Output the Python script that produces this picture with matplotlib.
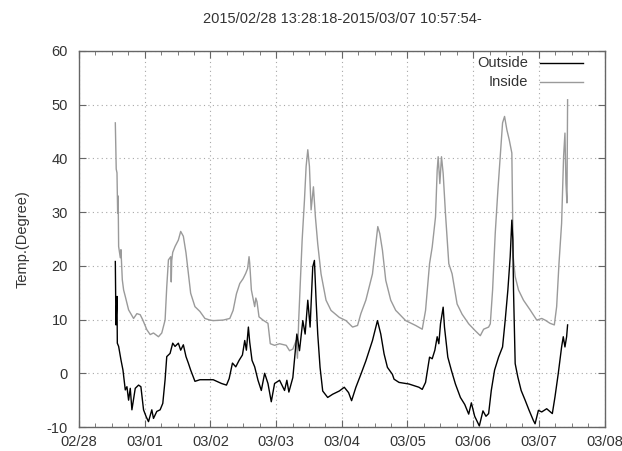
import datetime as dt
import numpy as np
import matplotlib
matplotlib.use("Agg")
import matplotlib.pyplot as plt
import matplotlib.dates as mdates

# hours after 2015/02/28 00:00, temperature in degrees
in_hours = [13.27, 13.6, 13.88, 14.12, 14.3, 14.48, 15.09, 15.33, 15.82, 16.3, 16.91, 18.12,
            19.94, 21.15, 22.36, 23.33, 24.79, 26.0, 27.21, 29.03, 30.24, 31.45, 32.06, 32.67,
            33.52, 33.7, 33.88, 34.24, 35.09, 36.3, 37.15, 38.12, 39.09, 39.94, 40.79, 42.36,
            44.18, 46.0, 47.82, 49.03, 52.67, 55.09, 56.3, 57.52, 58.73, 59.94, 60.91, 61.6,
            62.12, 62.36, 62.97, 64.18, 64.6, 65.03, 65.76, 67.21, 69.03, 69.88, 71.45, 73.27,
            75.7, 76.91, 78.12, 79.33, 79.8, 80.3, 81.52, 82.36, 82.97, 83.58, 84.18, 84.79,
            85.64, 86.36, 87.21, 88.42, 90.24, 92.06, 95.09, 97.52, 99.94, 101.76, 102.97,
            104.79, 107.21, 108.18, 109.15, 109.88, 110.85, 112.06, 113.88, 115.7, 116.3,
            119.33, 122.97, 125.39, 126.6, 128.06, 129.03, 130.24, 130.85, 131.21, 131.82,
            132.42, 133.03, 133.88, 135.09, 136.3, 138.12, 139.94, 142.36, 144.79, 146.6,
            147.82, 149.64, 150.25, 151.09, 152.06, 153.03, 153.88, 154.73, 155.46, 156.31,
            157.15, 158.12, 158.61, 159.34, 160.55, 162.37, 164.79, 167.22, 169.03, 170.25,
            172.06, 173.64, 174.49, 175.34, 176.3, 177.03, 177.52, 177.88, 178.25, 178.49]
in_temp = [46.6, 38.0, 37.3, 29.8, 33.0, 23.6, 21.5, 23.0, 17.4, 15.5, 14.3, 11.8,
           10.2, 11.1, 10.9, 9.9, 8.1, 7.2, 7.5, 6.8, 7.5, 9.9, 16.1, 21.1,
           21.7, 17.0, 21.0, 22.5, 23.6, 24.8, 26.4, 25.5, 22.4, 18.6, 14.9, 12.4,
           11.5, 10.2, 9.9, 9.8, 9.9, 10.2, 11.7, 14.8, 16.7, 17.6, 18.6, 19.5,
           21.7, 20.5, 15.5, 12.4, 14.0, 13.3, 10.5, 9.9, 9.3, 5.5, 5.2, 5.5,
           5.2, 4.2, 4.5, 6.1, 2.8, 10.4, 24.8, 32.2, 38.5, 41.6, 38.5, 30.4,
           34.7, 29.1, 24.1, 18.5, 13.6, 11.7, 10.4, 9.8, 8.6, 8.9, 11.1,
           13.6, 18.5, 22.9, 27.3, 26.0, 22.9, 17.3, 13.6, 11.7, 11.4,
           9.8, 8.9, 8.2, 11.7, 20.4, 23.5, 29.1, 37.8, 40.3, 35.3,
           40.3, 37.2, 29.7, 20.4, 18.5, 12.9, 11.0, 9.2, 7.9, 7.0,
           8.2, 8.6, 9.2, 15.5, 26.1, 34.1, 40.4, 46.6, 47.8, 45.3,
           43.5, 41.0, 21.7, 18.0, 15.5, 13.6, 11.8, 9.9, 10.2, 9.9,
           9.3, 9.0, 12.4, 20.4, 27.9, 40.4, 44.7, 35.4, 31.7, 50.9]

out_hours = [13.27, 13.5, 13.88, 14.0, 14.48, 15.33, 16.06, 16.91, 17.51, 18.12, 18.73, 19.33,
             20.55, 21.76, 22.61, 23.58, 24.55, 25.39, 26.6, 27.21, 28.42, 29.64, 30.61, 31.45,
             32.06, 33.27, 34.24, 35.09, 36.3, 37.15, 38.12, 39.09, 39.94, 40.79, 42.36, 44.18,
             49.03, 52.06, 53.88, 54.85, 56.06, 57.27, 58.48, 59.7, 60.55, 61.15, 61.88, 62.36,
             63.21, 64.18, 65.39, 66.6, 67.82, 69.03, 70.24, 71.45, 73.27, 75.09, 75.94, 76.67,
             78.12, 79.58, 80.55, 81.76, 82.61, 83.58, 84.42, 85.39, 86.0, 86.61, 87.21, 88.06,
             89.03, 90.85, 92.67, 95.09, 96.91, 98.48, 99.58, 101.15, 102.97, 104.79, 107.21,
             109.03, 110.24, 111.45, 112.67, 114.49, 115.09, 116.91, 120.55, 124.18, 125.39,
             126.6, 128.06, 129.03, 130.0, 130.85, 131.45, 132.06, 133.03, 133.51, 134.73,
             136.06, 137.51, 139.33, 140.91, 142.36, 143.33, 144.54, 146.24, 147.57, 148.67,
             149.64, 150.61, 151.82, 153.27, 154.73, 155.7, 156.67, 157.52, 158.12, 158.49,
             158.73, 159.34, 160.31, 161.52, 162.97, 164.43, 166.0, 166.61, 167.82, 169.03,
             170.85, 172.91, 173.88, 175.09, 176.3, 176.91, 177.52, 178.13, 178.49]
out_temp = [20.8, 9.0, 14.3, 5.6, 5.0, 2.5, 0.6, -3.1, -2.5, -5.0, -2.8, -6.8,
            -2.8, -2.2, -2.5, -6.8, -8.1, -9.0, -6.8, -8.4, -7.1, -6.8, -5.6, -1.2,
            3.1, 3.7, 5.6, 5.0, 5.6, 4.3, 5.3, 3.1, 1.9, 0.6, -1.5, -1.2,
            -1.2, -1.9, -2.2, -1.0, 1.9, 1.2, 2.4, 3.4, 6.1, 4.3, 8.6, 5.8,
            2.4, 1.2, -1.3, -3.2, 0.0, -1.9, -5.3, -1.9, -1.3, -3.2, -1.3, -3.5,
            -0.8, 7.3, 4.2, 9.8, 7.3, 13.6, 8.6, 19.8, 21.0, 13.6, 7.3, 1.1,
            -3.3, -4.5, -3.9, -3.3, -2.6, -3.6, -5.1, -2.6, -0.2, 2.3, 6.1,
            9.8, 7.3, 3.6, 1.1, -0.2, -1.1, -1.7, -2.0, -2.6, -3.0,
            -1.7, 3.0, 2.7, 4.3, 6.8, 5.5, 9.2, 12.3, 8.6, 3.0,
            0.5, -2.0, -4.5, -5.8, -7.6, -5.5, -8.0, -9.8, -7.0, -8.0,
            -7.5, -3.2, 0.6, 3.0, 4.9, 9.9, 15.5, 21.7, 28.5, 24.8,
            15.5, 1.8, -0.7, -3.2, -5.0, -6.9, -8.8, -9.4, -6.9, -7.2,
            -6.6, -7.5, -4.4, 0.0, 4.9, 6.8, 4.9, 6.8, 9.0]

title = "2015/02/28 13:28:18-2015/03/07 10:57:54-"

plt.rcParams['font.family'] = ['Liberation Sans', 'DejaVu Sans']
plt.rcParams['font.size'] = 10.5
plt.rcParams['axes.unicode_minus'] = False

t0 = mdates.date2num(dt.datetime(2015, 2, 28))
in_x = t0 + np.array(in_hours) / 24.0
out_x = t0 + np.array(out_hours) / 24.0

fig = plt.figure(figsize=(6.22, 4.51), dpi=100)
ax = fig.add_axes([0.127, 0.0532, 0.845, 0.834])

ax.plot(out_x, out_temp, color='black', lw=1.0, zorder=3)
ax.plot(in_x, in_temp, color='#9a9a9a', lw=1.0, zorder=2)

ax.set_xlim(t0, t0 + 8)
ax.set_ylim(-10, 60)
ax.set_yticks(np.arange(-10, 61, 10))
ax.xaxis.set_major_locator(mdates.DayLocator())
ax.xaxis.set_major_formatter(mdates.DateFormatter('%m/%d'))
ax.xaxis.set_minor_locator(mdates.HourLocator(byhour=[6, 12, 18]))

ax.grid(True, which='major', color='#a8a8a8', lw=0.8, linestyle=(0, (1, 3)))
for s in ax.spines.values():
    s.set_color('#666666')
    s.set_linewidth(1.0)
ax.tick_params(which='both', direction='in', top=True, right=True,
               color='#666666', labelcolor='#333333')
ax.tick_params(which='major', length=5)
ax.tick_params(which='minor', length=3)
ax.tick_params(axis='y', pad=8)
ax.tick_params(axis='x', pad=6)

ax.set_ylabel('Temp.(Degree)', color='#333333', labelpad=12)
fig.text(0.55, 0.958, title, ha='center', va='center', color='#333333')

# gnuplot-style key: text right aligned, sample line to the right
for ypos, name, col in [(0.968, 'Outside', 'black'), (0.918, 'Inside', '#9a9a9a')]:
    ax.text(0.854, ypos, name, transform=ax.transAxes, ha='right', va='center',
            color='#333333')
    ax.plot([0.877, 0.958], [ypos, ypos], transform=ax.transAxes, color=col, lw=1.0)

fig.savefig('out.png', dpi=100)
